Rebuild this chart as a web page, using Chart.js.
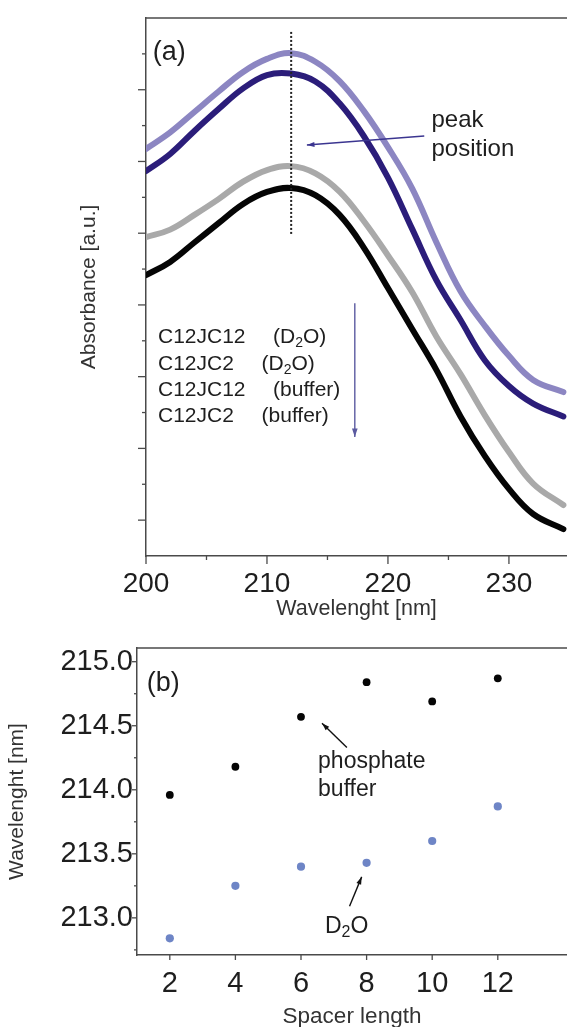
<!DOCTYPE html>
<html>
<head>
<meta charset="utf-8">
<script src="https://cdn.jsdelivr.net/npm/chart.js@4.4.1/dist/chart.umd.min.js"></script>
<style>
  html, body { margin: 0; padding: 0; background: #fff; }
  #wrap { width: 567px; height: 1027px; overflow: hidden; }
  canvas { display: block; }
</style>
</head>
<body>
<div id="wrap">
  <canvas id="chartA" width="567" height="640"></canvas>
  <canvas id="chartB" width="567" height="387"></canvas>
</div>
<script>
// --- data, panel (a): absorbance spectra (arbitrary units) ---
const wavelengths = [200, 202, 204, 206, 208, 210, 212, 214, 216, 218, 220, 222, 224, 226, 228, 230, 232, 234.5];
const c12jc12D2O    = [11.35, 11.81, 12.38, 12.95, 13.49, 13.86, 14.02, 13.78, 13.24, 12.41, 11.40, 10.25, 8.75, 7.38, 6.42, 5.58, 4.91, 4.57];
const c12jc2D2O     = [10.73, 11.21, 11.85, 12.46, 13.03, 13.41, 13.45, 13.23, 12.62, 11.71, 10.55, 9.12, 7.69, 6.58, 5.46, 4.74, 4.25, 3.89];
const c12jc12Buffer = [8.89, 9.10, 9.51, 9.95, 10.43, 10.76, 10.87, 10.67, 10.16, 9.34, 8.38, 7.36, 6.12, 5.07, 3.93, 2.90, 2.02, 1.42];
const c12jc2Buffer  = [7.83, 8.20, 8.74, 9.28, 9.81, 10.15, 10.26, 10.06, 9.51, 8.60, 7.47, 6.33, 5.19, 3.89, 2.79, 1.87, 1.17, 0.75];
const peakLineX = [212, 212];
const peakLineY = [8.98, 14.66];

// tick marks, panel (a)
const xMajorA = [200, 210, 220, 230];
const xMinorA = [205, 215, 225];
const yMajorA = [1, 3, 5, 7, 9, 11, 13];
const yMinorA = [2, 4, 6, 8, 10, 12, 14];

// --- data, panel (b): peak position vs spacer length ---
const spacer = [2, 4, 6, 8, 10, 12];
const peakBuffer = [213.96, 214.18, 214.57, 214.84, 214.69, 214.87];
const peakD2O    = [212.84, 213.25, 213.40, 213.43, 213.60, 213.87];

const xTicksB = [2, 4, 6, 8, 10, 12];
const yMajorB = [213.0, 213.5, 214.0, 214.5, 215.0];
const yMinorB = [212.75, 213.25, 213.75, 214.25, 214.75];

const FONT = '"Liberation Sans", Arial, sans-serif';
Chart.defaults.font.family = FONT;
Chart.defaults.color = '#1e1e1e';

const AXIS = '#4a4a4a';

function toPoints(xs, ys) {
  return xs.map((x, i) => ({ x: x, y: ys[i] }));
}

// el área del gráfico queda fija: sin relleno extra por las etiquetas
function noPad(s) {
  s.paddingLeft = 0;
  s.paddingRight = 0;
  s.paddingTop = 0;
  s.paddingBottom = 0;
}

// texto con subíndices: "_{2}"
function drawRich(ctx, text, x, y, size) {
  const parts = text.split(/_\{(.*?)\}/);
  let cx = x;
  parts.forEach((p, i) => {
    if (!p) return;
    const sub = i % 2 === 1;
    ctx.font = (sub ? Math.round(size * 0.68) : size) + 'px ' + FONT;
    ctx.fillText(p, cx, sub ? y + size * 0.18 : y);
    cx += ctx.measureText(p).width;
  });
}

function drawArrow(ctx, x1, y1, x2, y2, color, head) {
  ctx.strokeStyle = color;
  ctx.fillStyle = color;
  ctx.lineWidth = 1.4;
  ctx.beginPath();
  ctx.moveTo(x1, y1);
  ctx.lineTo(x2, y2);
  ctx.stroke();
  const a = Math.atan2(y2 - y1, x2 - x1);
  ctx.beginPath();
  ctx.moveTo(x2, y2);
  ctx.lineTo(x2 - head * Math.cos(a - 0.32), y2 - head * Math.sin(a - 0.32));
  ctx.lineTo(x2 - head * Math.cos(a + 0.32), y2 - head * Math.sin(a + 0.32));
  ctx.closePath();
  ctx.fill();
}

// ticks, marco superior, textos y flechas
function decor(cfg) {
  return {
    id: 'decor',
    afterDraw(chart) {
      const { ctx, chartArea: area, scales: { x, y } } = chart;
      ctx.save();
      ctx.strokeStyle = AXIS;
      ctx.lineWidth = 1.3;
      cfg.marks.forEach(m => {
        m.values.forEach(v => {
          ctx.beginPath();
          if (m.axis === 'x') {
            const p = x.getPixelForValue(v);
            ctx.moveTo(p, area.bottom);
            ctx.lineTo(p, area.bottom + m.len);
          } else {
            const p = y.getPixelForValue(v);
            ctx.moveTo(area.left, p);
            ctx.lineTo(area.left - m.len, p);
          }
          ctx.stroke();
        });
      });
      // borde superior
      ctx.lineWidth = 1.5;
      ctx.beginPath();
      ctx.moveTo(area.left, area.top);
      ctx.lineTo(area.right, area.top);
      ctx.stroke();

      ctx.textBaseline = 'alphabetic';
      ctx.textAlign = 'left';
      cfg.texts.forEach(t => {
        ctx.fillStyle = '#1e1e1e';
        drawRich(ctx, t.text, x.getPixelForValue(t.x), y.getPixelForValue(t.y), t.size);
      });
      cfg.arrows.forEach(a => {
        drawArrow(ctx, x.getPixelForValue(a.x1), y.getPixelForValue(a.y1),
          x.getPixelForValue(a.x2), y.getPixelForValue(a.y2), a.color, a.head);
      });
      ctx.restore();
    }
  };
}

// ===== panel (a) =====
const decorA = decor({
  marks: [
    { axis: 'x', values: xMajorA, len: 8 },
    { axis: 'x', values: xMinorA, len: 4 },
    { axis: 'y', values: yMajorA, len: 8 },
    { axis: 'y', values: yMinorA, len: 4 }
  ],
  texts: [
    { text: '(a)', x: 200.55, y: 13.83, size: 27 },
    { text: 'peak', x: 223.6, y: 11.96, size: 24 },
    { text: 'position', x: 223.6, y: 11.15, size: 24 },
    { text: 'C12JC12', x: 200.99, y: 5.93, size: 21 },
    { text: '(D_{2}O)', x: 210.5, y: 5.93, size: 21 },
    { text: 'C12JC2', x: 200.99, y: 5.19, size: 21 },
    { text: '(D_{2}O)', x: 209.55, y: 5.19, size: 21 },
    { text: 'C12JC12', x: 200.99, y: 4.47, size: 21 },
    { text: '(buffer)', x: 210.5, y: 4.47, size: 21 },
    { text: 'C12JC2', x: 200.99, y: 3.74, size: 21 },
    { text: '(buffer)', x: 209.55, y: 3.74, size: 21 }
  ],
  arrows: [
    { x1: 223.0, y1: 11.71, x2: 213.3, y2: 11.46, color: '#3b3590', head: 8 },
    { x1: 217.26, y1: 7.05, x2: 217.26, y2: 3.32, color: '#5b5aa0', head: 9 }
  ]
});

const lineStyle = { pointRadius: 0, borderWidth: 6, borderCapStyle: 'round', tension: 0.4, fill: false };

new Chart(document.getElementById('chartA'), {
  type: 'line',
  data: {
    datasets: [
      { label: 'peak position', data: toPoints(peakLineX, peakLineY), borderColor: '#222', borderWidth: 2, borderDash: [2, 2], pointRadius: 0 },
      { label: 'C12JC12 (buffer)', data: toPoints(wavelengths, c12jc12Buffer), borderColor: '#a9a9a9', ...lineStyle },
      { label: 'C12JC2 (buffer)', data: toPoints(wavelengths, c12jc2Buffer), borderColor: '#050505', ...lineStyle },
      { label: 'C12JC2 (D2O)', data: toPoints(wavelengths, c12jc2D2O), borderColor: '#2b1d7a', ...lineStyle },
      { label: 'C12JC12 (D2O)', data: toPoints(wavelengths, c12jc12D2O), borderColor: '#8c86c2', ...lineStyle }
    ]
  },
  options: {
    responsive: false,
    animation: false,
    layout: { autoPadding: false, padding: { top: 18, right: 0, left: 0, bottom: 0 } },
    plugins: { legend: { display: false }, tooltip: { enabled: false } },
    scales: {
      x: {
        type: 'linear', min: 200, max: 234.8,
        afterFit: s => { s.height = 84; noPad(s); },
        grid: { display: false, drawTicks: false },
        border: { display: true, color: AXIS, width: 1.5 },
        ticks: { stepSize: 10, includeBounds: false, padding: 11, font: { size: 28 }, color: '#1e1e1e' },
        title: { display: true, text: 'Wavelenght [nm]', font: { size: 21.5, lineHeight: 1 }, color: '#333', padding: { top: 0, bottom: 20 } }
      },
      y: {
        min: 0, max: 15,
        afterFit: s => { s.width = 146; noPad(s); },
        grid: { display: false, drawTicks: false },
        border: { display: true, color: AXIS, width: 1.5 },
        ticks: { display: false },
        title: { display: true, text: 'Absorbance [a.u.]', font: { size: 21, lineHeight: 1 }, color: '#333', padding: { top: 79, bottom: 0 } }
      }
    }
  },
  plugins: [decorA]
});

// ===== panel (b) =====
const decorB = decor({
  marks: [
    { axis: 'x', values: xTicksB, len: 5 },
    { axis: 'y', values: yMajorB, len: 5 },
    { axis: 'y', values: yMinorB, len: 3 }
  ],
  texts: [
    { text: '(b)', x: 1.3, y: 214.77, size: 27 },
    { text: 'phosphate', x: 6.52, y: 214.17, size: 23 },
    { text: 'buffer', x: 6.52, y: 213.95, size: 23 },
    { text: 'D_{2}O', x: 6.73, y: 212.88, size: 23 }
  ],
  arrows: [
    { x1: 7.40, y1: 214.33, x2: 6.64, y2: 214.52, color: '#111', head: 8 },
    { x1: 7.48, y1: 213.09, x2: 7.85, y2: 213.32, color: '#111', head: 8 }
  ]
});

new Chart(document.getElementById('chartB'), {
  type: 'scatter',
  data: {
    datasets: [
      { label: 'phosphate buffer', data: toPoints(spacer, peakBuffer), backgroundColor: '#050505', borderWidth: 0, pointRadius: 3.9 },
      { label: 'D2O', data: toPoints(spacer, peakD2O), backgroundColor: '#6e85c6', borderWidth: 0, pointRadius: 4.1 }
    ]
  },
  options: {
    responsive: false,
    animation: false,
    layout: { autoPadding: false, padding: { top: 8, right: 0, left: 0, bottom: 0 } },
    plugins: { legend: { display: false }, tooltip: { enabled: false } },
    scales: {
      x: {
        type: 'linear', min: 1, max: 14.11,
        afterFit: s => { s.height = 72; noPad(s); },
        afterBuildTicks: s => { s.ticks = xTicksB.map(v => ({ value: v })); },
        grid: { display: false, drawTicks: false },
        border: { display: true, color: AXIS, width: 1.5 },
        ticks: { padding: 12, font: { size: 29 }, color: '#1e1e1e' },
        title: { display: true, text: 'Spacer length', font: { size: 22.5, lineHeight: 1 }, color: '#333', padding: { top: 0, bottom: -1 } }
      },
      y: {
        min: 212.71, max: 215.107,
        afterFit: s => { s.width = 137; noPad(s); },
        afterBuildTicks: s => { s.ticks = yMajorB.map(v => ({ value: v })); },
        grid: { display: false, drawTicks: false },
        border: { display: true, color: AXIS, width: 1.5 },
        ticks: { padding: 4, font: { size: 29 }, color: '#1e1e1e', callback: v => Number(v).toFixed(1) },
        title: { display: true, text: 'Wavelenght [nm]', font: { size: 21, lineHeight: 1 }, color: '#333', padding: { top: 7, bottom: 0 } }
      }
    }
  },
  plugins: [decorB]
});
</script>
</body>
</html>
